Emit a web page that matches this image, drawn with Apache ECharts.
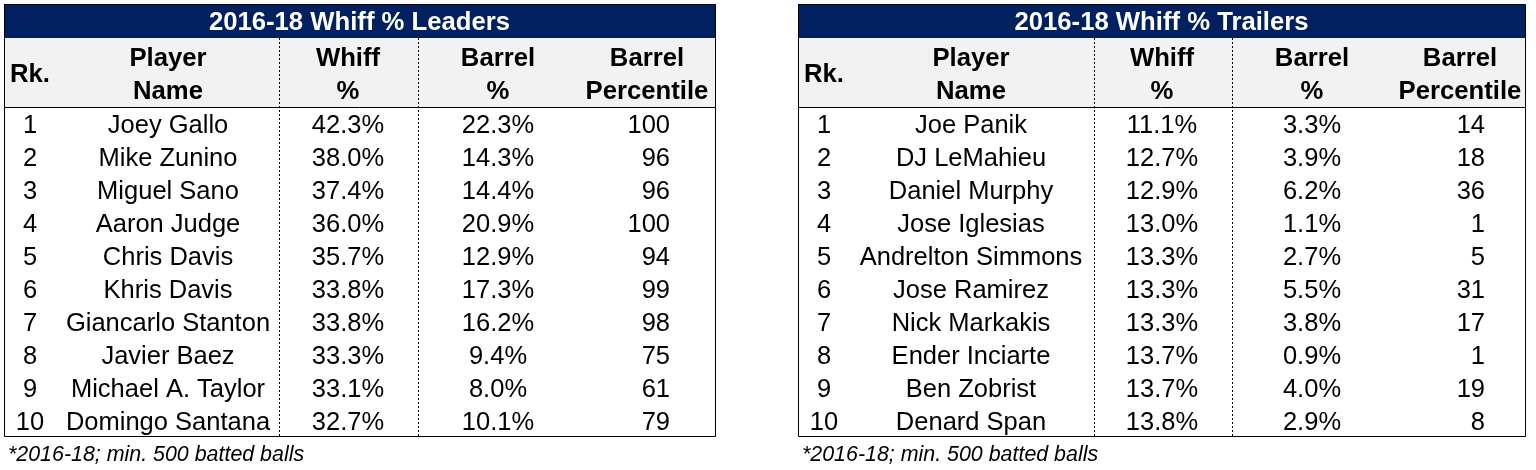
<!DOCTYPE html>
<html>
<head>
<meta charset="utf-8">
<script src="https://cdn.jsdelivr.net/npm/echarts@6/dist/echarts.min.js"></script>
<style>
  html, body { margin: 0; padding: 0; background: #fff; }
  #chart { width: 1536px; height: 470px; }
</style>
</head>
<body>
<div id="chart"></div>
<script>
// column headers (two lines each)
const headers = [['Rk.'], ['Player', 'Name'], ['Whiff', '%'], ['Barrel', '%'], ['Barrel', 'Percentile']]
const footnote = '*2016-18; min. 500 batted balls'

// leaders
const leadersTitle = '2016-18 Whiff % Leaders'
const leadersRank = [1, 2, 3, 4, 5, 6, 7, 8, 9, 10]
const leadersName = ['Joey Gallo', 'Mike Zunino', 'Miguel Sano', 'Aaron Judge', 'Chris Davis',
  'Khris Davis', 'Giancarlo Stanton', 'Javier Baez', 'Michael A. Taylor', 'Domingo Santana']
const leadersWhiff = [42.3, 38.0, 37.4, 36.0, 35.7, 33.8, 33.8, 33.3, 33.1, 32.7]
const leadersBarrel = [22.3, 14.3, 14.4, 20.9, 12.9, 17.3, 16.2, 9.4, 8.0, 10.1]
const leadersPct = [100, 96, 96, 100, 94, 99, 98, 75, 61, 79]

// trailers
const trailersTitle = '2016-18 Whiff % Trailers'
const trailersRank = [1, 2, 3, 4, 5, 6, 7, 8, 9, 10]
const trailersName = ['Joe Panik', 'DJ LeMahieu', 'Daniel Murphy', 'Jose Iglesias', 'Andrelton Simmons',
  'Jose Ramirez', 'Nick Markakis', 'Ender Inciarte', 'Ben Zobrist', 'Denard Span']
const trailersWhiff = [11.1, 12.7, 12.9, 13.0, 13.3, 13.3, 13.3, 13.7, 13.7, 13.8]
const trailersBarrel = [3.3, 3.9, 6.2, 1.1, 2.7, 5.5, 3.8, 0.9, 4.0, 2.9]
const trailersPct = [14, 18, 36, 1, 5, 31, 17, 1, 19, 8]

const tables = [
  { title: leadersTitle, rank: leadersRank, name: leadersName, whiff: leadersWhiff, barrel: leadersBarrel, pct: leadersPct },
  { title: trailersTitle, rank: trailersRank, name: trailersName, whiff: trailersWhiff, barrel: trailersBarrel, pct: trailersPct }
]

// layout (pixels)
const NAVY = '#002060'
const FONT = '"Liberation Sans", Arial, sans-serif'
const TOP = 4, TITLE_H = 34, HEAD_BOTTOM = 107, BOTTOM = 436
const boxes = [
  { x: 4, w: 711, dots: [275, 414], cols: [26, 164, 344, 494, 643], pctRight: 666 },
  { x: 798, w: 727, dots: [296, 434], cols: [26, 173, 364, 514, 662], pctRight: 687 }
]

var chart = echarts.init(document.getElementById('chart'))

var grids = [], xAxes = [], yAxes = [], series = [], graphic = []

boxes.forEach(function (b, t) {
  var tbl = tables[t]
  grids.push({ left: b.x, top: HEAD_BOTTOM, width: b.w, height: BOTTOM - HEAD_BOTTOM, show: false })
  xAxes.push({ type: 'value', gridIndex: t, min: 0, max: b.w, show: false })
  yAxes.push({ type: 'category', gridIndex: t, inverse: true, show: false, data: tbl.rank.map(String) })

  series.push({
    type: 'custom',
    xAxisIndex: t,
    yAxisIndex: t,
    silent: true,
    data: tbl.rank.map(function (r, i) { return [0, i] }),
    renderItem: function (params, api) {
      var i = params.dataIndex
      var y = api.coord([0, i])[1] + 3
      var cells = [String(tbl.rank[i]), tbl.name[i], tbl.whiff[i].toFixed(1) + '%',
        tbl.barrel[i].toFixed(1) + '%', String(tbl.pct[i])]
      return {
        type: 'group',
        children: cells.map(function (c, k) {
          var right = k === 4
          return {
            type: 'text',
            x: api.coord([right ? b.pctRight : b.cols[k], i])[0],
            y: y,
            style: {
              text: c,
              font: '25.5px ' + FONT,
              fill: '#000',
              align: right ? 'right' : 'center',
              verticalAlign: 'middle'
            }
          }
        })
      }
    }
  })

  // title bar and header band
  graphic.push({ type: 'rect', shape: { x: b.x, y: TOP, width: b.w, height: TITLE_H }, style: { fill: NAVY } })
  graphic.push({ type: 'rect', shape: { x: b.x, y: TOP + TITLE_H, width: b.w, height: HEAD_BOTTOM - TOP - TITLE_H }, style: { fill: '#f2f2f2' } })
  graphic.push({
    type: 'text', x: b.x + b.w / 2, y: TOP + TITLE_H / 2 + 2,
    style: { text: tbl.title, font: 'bold 25.7px ' + FONT, fill: '#fff', align: 'center', verticalAlign: 'middle' }
  })
  headers.forEach(function (h, k) {
    var ys = h.length === 1 ? [75] : [59, 92]
    h.forEach(function (line, j) {
      graphic.push({
        type: 'text', x: b.x + b.cols[k], y: ys[j],
        style: { text: line, font: 'bold 25.7px ' + FONT, fill: '#000', align: 'center', verticalAlign: 'middle' }
      })
    })
  })
  // dotted separators
  b.dots.forEach(function (d) {
    graphic.push({
      type: 'line', shape: { x1: b.x + d + 0.5, y1: TOP + TITLE_H, x2: b.x + d + 0.5, y2: BOTTOM },
      style: { stroke: '#000', lineWidth: 1, lineDash: [2, 2] }
    })
  })
  // header rule and outer border
  graphic.push({
    type: 'line', shape: { x1: b.x, y1: HEAD_BOTTOM + 0.5, x2: b.x + b.w, y2: HEAD_BOTTOM + 0.5 },
    style: { stroke: '#000', lineWidth: 1 }
  })
  graphic.push({
    type: 'rect', shape: { x: b.x + 0.5, y: TOP + 0.5, width: b.w, height: BOTTOM - TOP },
    style: { fill: 'none', stroke: '#000', lineWidth: 1 }
  })
  graphic.push({
    type: 'text', x: b.x + 4, y: 455,
    style: { text: footnote, font: 'italic 21.4px ' + FONT, fill: '#000', align: 'left', verticalAlign: 'middle' }
  })
})

chart.setOption({
  animation: false,
  backgroundColor: '#fff',
  grid: grids,
  xAxis: xAxes,
  yAxis: yAxes,
  series: series,
  graphic: graphic
})
</script>
</body>
</html>
